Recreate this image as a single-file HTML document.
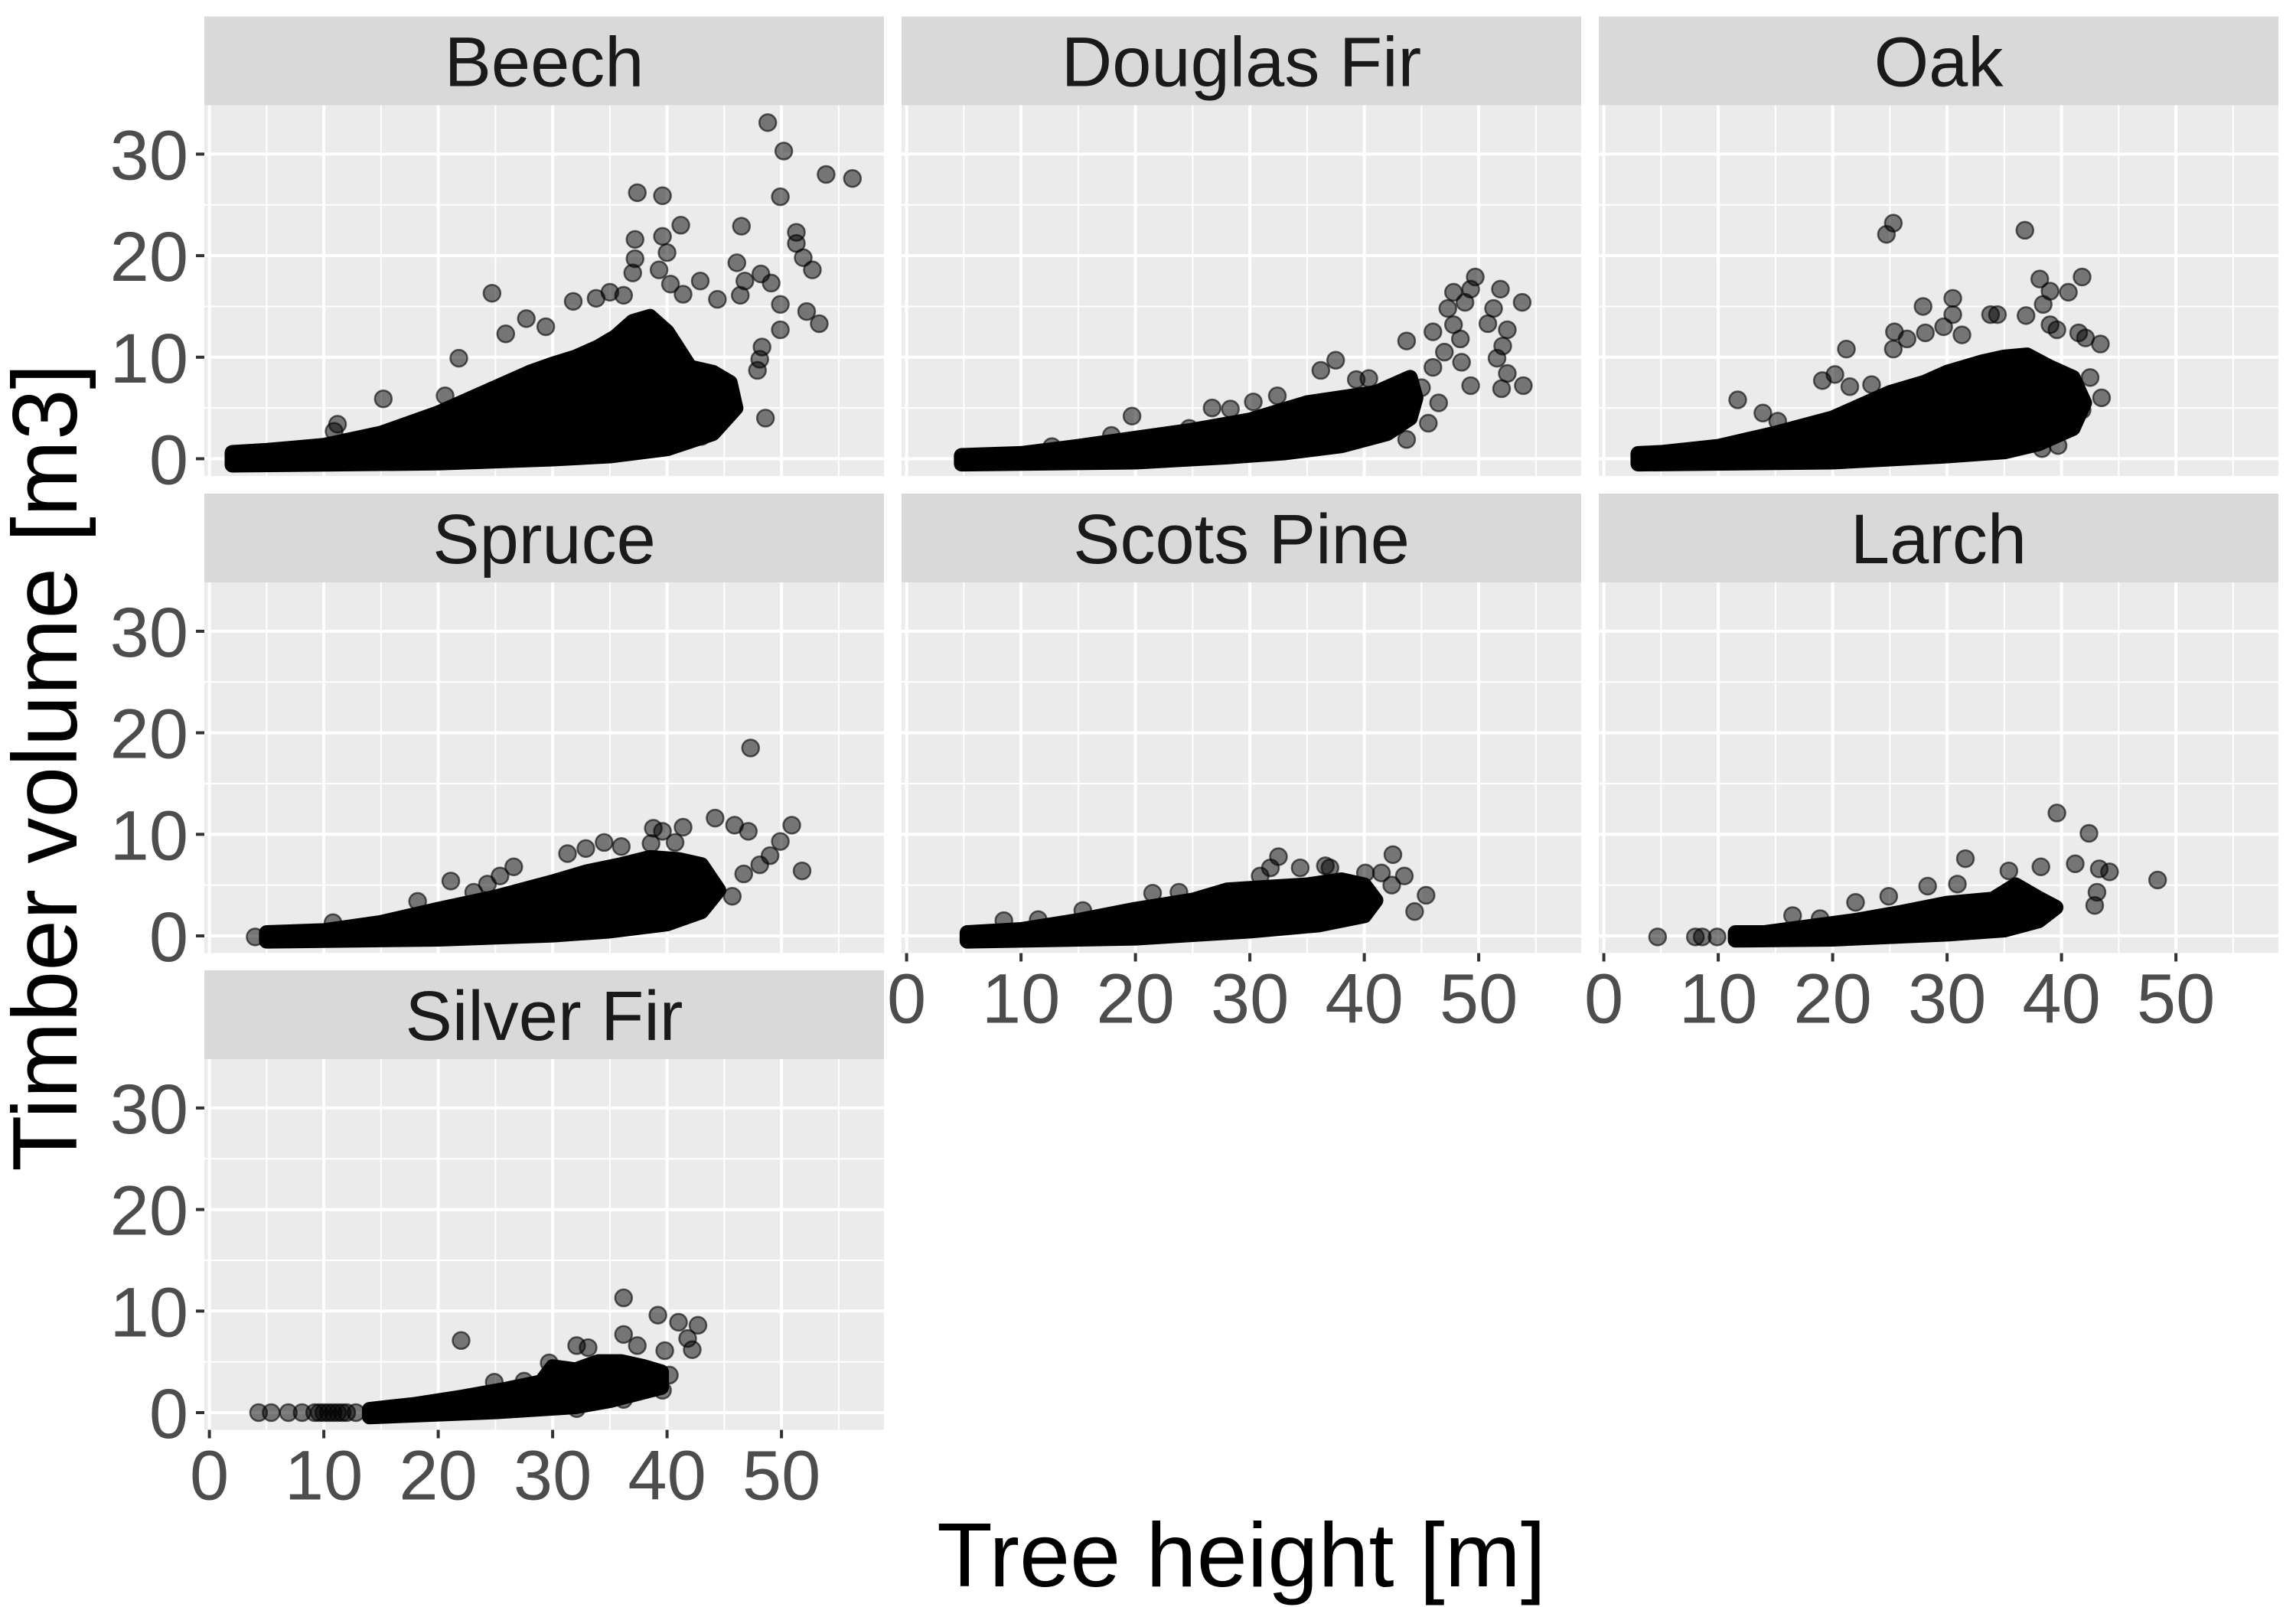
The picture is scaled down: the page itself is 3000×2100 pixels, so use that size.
<!DOCTYPE html>
<html><head><meta charset="utf-8"><style>
html,body{margin:0;padding:0;background:#fff;}
svg{display:block;font-family:"Liberation Sans",Arial,sans-serif;}
</style></head><body>
<svg id="chart" width="3000" height="2100" viewBox="0 0 3000 2100" xmlns="http://www.w3.org/2000/svg">
<text x="0" y="0" transform="translate(100,1003) rotate(-90)" font-size="120" text-anchor="middle" fill="#000">Timber volume [m3]</text>
<text x="1622" y="2073" font-size="119" text-anchor="middle" fill="#000">Tree height [m]</text>
</svg>
<script>
const species = ["Beech","Douglas Fir","Oak","Spruce","Scots Pine","Larch","Silver Fir"];
const xTicks = [0,10,20,30,40,50];
const yTicks = [0,10,20,30];
const xMinor = [5,15,25,35,45,55];
const yMinor = [5,15,25];

// dense point-cloud outlines (height, volume) in loop order
const beechEnv = [[2,0.6],[5,0.8],[10,1.3],[15,2.5],[20,4.5],[22,5.5],[25,7],[28,8.5],[30,9.3],[32,10],[34,11],[35.5,12],[37,13.5],[38.5,14],[40,12.5],[42,9],[44,8.5],[45.5,7.5],[46,5],[44,2.5],[40,1],[35,0.3],[30,0],[20,-0.4],[2,-0.6]];
const douglasEnv = [[4.8,0.3],[10,0.5],[15,1.2],[20,2],[25,2.8],[30,3.8],[35,5.5],[38,6],[41,6.5],[44,8],[44.5,6],[44,4],[42,2.5],[38,1.3],[33,0.6],[28,0.2],[20,-0.3],[4.8,-0.5]];
const oakEnv = [[3,0.5],[5,0.6],[10,1.2],[15,2.5],[20,4],[22,5],[25,6.5],[28,7.5],[30,8.5],[33,9.5],[35,10],[37,10.2],[39,9],[41,8],[42,5.5],[41,3],[38,1.5],[35,0.7],[30,0.3],[20,-0.3],[3,-0.5]];
const spruceEnv = [[5,0.3],[10,0.5],[15,1.3],[20,2.6],[25,3.8],[30,5.3],[33,6.3],[36,7],[38.5,7.7],[41,7.5],[43,7],[44.5,4.5],[43,2.4],[40,1.2],[35,0.5],[30,0.1],[20,-0.3],[5,-0.5]];
const pineEnv = [[5.3,0.3],[10,0.6],[15,1.5],[20,2.6],[25,3.5],[28,4.5],[32,4.8],[35,5],[38,5.5],[40,5],[41,3.5],[40,2],[36,1.1],[30,0.5],[20,-0.2],[5.3,-0.5]];
const larchEnv = [[11.5,0.3],[14,0.3],[18,0.9],[22,1.5],[26,2.3],[30,3.2],[34,3.6],[36,5],[38,3.7],[39.5,2.8],[38,1.5],[35,0.6],[30,0.2],[20,-0.3],[11.5,-0.4]];
const firEnv = [[14,0.3],[18,0.8],[22,1.5],[26,2.3],[29,3],[30,4.5],[32,4.2],[34,5],[36,5],[38,4.5],[39.5,4],[39.5,2.5],[35,1.2],[32,0.6],[25,0.1],[14,-0.4]];

// individual points (height, volume)
const beechX = [48.8,50.2,53.9,56.2,49.9,37.4,39.6,41.2,46.5,37.2,39.6,40.0,37.2,37.0,39.3,51.3,51.3,51.9,52.7,46.1,42.9,46.8,48.2,49.1,41.4,40.3,44.4,46.4,49.9,52.2,53.3,48.6,47.9,48.1,48.3,49.9,24.7,31.8,35.0,33.8,36.2,27.7,21.8,15.2,20.6,25.9,29.4,11.2,10.9,43.0];
const beechV = [33.1,30.3,28.0,27.6,25.8,26.2,25.9,23.0,22.9,21.6,21.9,20.3,19.7,18.3,18.6,22.3,21.2,19.8,18.6,19.3,17.5,17.5,18.2,17.3,16.2,17.2,15.7,16.1,15.2,14.5,13.3,4.0,8.7,9.8,11.0,12.7,16.3,15.5,16.4,15.8,16.1,13.8,9.9,5.9,6.2,12.3,13.0,3.4,2.7,2.2];
const douglasX = [49.7,47.8,49.3,51.9,53.8,48.8,47.3,51.3,47.8,52.5,50.8,43.7,46.0,48.4,52.1,51.6,52.5,53.9,52.0,49.3,37.5,36.2,39.3,40.4,32.4,26.7,28.3,30.3,19.7,17.9,12.7,43.7,45.6,24.7,46,47,48.5,45,46.5];
const douglasV = [17.9,16.4,16.7,16.7,15.4,15.4,14.8,14.8,13.2,12.7,13.3,11.6,12.5,11.8,11.1,9.9,8.4,7.2,6.9,7.2,9.7,8.7,7.8,7.9,6.2,5.0,4.9,5.6,4.2,2.3,1.2,1.9,3.5,3.0,9,10.5,9.5,7,5.5];
const oakX = [25.3,24.7,36.8,38.1,41.8,39.0,40.6,38.4,30.5,27.9,30.5,33.8,34.4,36.9,39.0,39.6,41.5,42.1,43.4,25.4,26.5,28.1,29.7,31.3,21.2,25.3,42.5,43.5,41.8,38.3,39.7,11.7,13.9,19.1,20.2,21.5,15.2,23.4];
const oakV = [23.2,22.1,22.5,17.7,17.9,16.5,16.4,15.2,15.8,15.0,14.2,14.2,14.2,14.1,13.2,12.7,12.4,11.9,11.3,12.5,11.8,12.4,13.0,12.2,10.8,10.8,8.0,6.0,4.8,1.0,1.3,5.8,4.5,7.7,8.3,7.1,3.7,7.3];
const spruceX = [47.3,44.2,45.9,47.1,50.9,49.9,49.0,48.1,51.8,38.8,39.6,41.4,38.6,40.7,34.5,36.0,32.9,31.3,26.6,25.4,21.1,24.3,23.1,18.2,10.8,45.7,46.7,4.0];
const spruceV = [18.5,11.6,10.9,10.3,10.9,9.3,7.9,7.0,6.4,10.6,10.3,10.7,9.1,9.2,9.2,8.8,8.6,8.1,6.8,5.9,5.4,5.1,4.3,3.4,1.3,3.9,6.1,-0.1];
const pineX = [32.5,31.8,34.4,36.6,37.0,42.5,43.5,42.4,45.4,44.4,40.1,41.5,21.5,23.8,15.4,8.5,11.5,30.9];
const pineV = [7.8,6.7,6.7,6.9,6.7,8.0,5.9,5.0,4.0,2.4,6.2,6.2,4.2,4.3,2.5,1.5,1.6,5.9];
const larchX = [39.6,42.4,31.6,48.4,38.2,41.2,43.3,44.2,35.4,28.3,30.9,24.9,22.0,16.5,18.9,42.9,43.1,4.7,8.0,8.6,9.9,11.7];
const larchV = [12.1,10.1,7.6,5.5,6.8,7.1,6.6,6.3,6.4,4.9,5.1,3.9,3.3,2.0,1.7,3.0,4.3,-0.1,-0.1,-0.1,-0.1,0.0];
const firX = [36.2,39.2,41.0,42.7,41.8,42.2,22.0,36.2,32.1,33.1,37.4,39.8,40.2,39.6,29.7,30.3,24.9,27.5,32.1,36.2,4.3,5.4,6.9,8.1,12.8,9.2,9.6,10.0,10.4,10.8,11.2,11.6,12.0];
const firV = [11.3,9.6,8.9,8.6,7.3,6.2,7.1,7.7,6.6,6.4,6.6,6.1,3.7,2.2,4.9,4.3,3.0,3.1,0.4,1.3,0,0,0,0,0,0,0,0,0,0,0,0,0];

const envs = [beechEnv,douglasEnv,oakEnv,spruceEnv,pineEnv,larchEnv,firEnv];
const ptsX = [beechX,douglasX,oakX,spruceX,pineX,larchX,firX];
const ptsV = [beechV,douglasV,oakV,spruceV,pineV,larchV,firV];

const NS = "http://www.w3.org/2000/svg";
const svg = document.getElementById("chart");
const colX = [267,1178,2089], rowY = [137.5,761,1384];
const PW = 888, PH = 484.5, SH = 116;
function mk(tag, attrs, parent){ const e=document.createElementNS(NS,tag); for(const k in attrs) e.setAttribute(k,attrs[k]); (parent||svg).appendChild(e); return e; }

species.forEach((name,i)=>{
  const c=i%3, r=Math.floor(i/3);
  const x0=colX[c], y0=rowY[r];
  const sx = v => x0 + 6.6 + v*14.95;
  const sy = v => y0 + 462 - v*13.27;
  const g = mk("g",{});
  
  
  const strip = mk("rect",{x:x0,y:y0-SH,width:PW,height:SH,fill:"#d9d9d9"},g);
  
  
  const st = mk("text",{x:x0+PW/2,y:y0-SH/2+33,"font-size":92,"text-anchor":"middle",fill:"#1a1a1a"},g);
  st.textContent = name;
  
  
  const bg = mk("rect",{x:x0,y:y0,width:PW,height:PH,fill:"#ebebeb"},g);
  
  
  yMinor.forEach(v=>mk("line",{x1:x0,x2:x0+PW,y1:sy(v),y2:sy(v),stroke:"#fff","stroke-width":2},g));
  xMinor.forEach(v=>mk("line",{x1:sx(v),x2:sx(v),y1:y0,y2:y0+PH,stroke:"#fff","stroke-width":2},g));
  yTicks.forEach(v=>mk("line",{x1:x0,x2:x0+PW,y1:sy(v),y2:sy(v),stroke:"#fff","stroke-width":4},g));
  xTicks.forEach(v=>mk("line",{x1:sx(v),x2:sx(v),y1:y0,y2:y0+PH,stroke:"#fff","stroke-width":4},g));
  const clipId="clip"+i;
  const cp = mk("clipPath",{id:clipId},g); mk("rect",{x:x0,y:y0,width:PW,height:PH},cp);
  const dg = mk("g",{"clip-path":"url(#"+clipId+")"},g);
  const env = envs[i];
  const ptsStr = env.map(p=>sx(p[0])+","+sy(p[1])).join(" ");
  const poly = mk("polygon",{points:ptsStr,fill:"#000",stroke:"#000","stroke-width":20,"stroke-linejoin":"round"},dg);
  
  
  ptsX[i].forEach((xv,j)=>{
    const pt = mk("circle",{cx:sx(xv),cy:sy(ptsV[i][j]),r:11,fill:"rgba(0,0,0,0.5)",stroke:"rgba(0,0,0,0.6)","stroke-width":2.5},dg);
    
    
  });
  if(c===0){
    yTicks.forEach(v=>{
      mk("line",{x1:x0-11,x2:x0,y1:sy(v),y2:sy(v),stroke:"#333","stroke-width":4},g);
      const t = mk("text",{x:x0-21,y:sy(v)+33,"font-size":92,"text-anchor":"end",fill:"#4d4d4d"},g);
      t.textContent = v;
      
      
    });
  }
  if(i>=4){
    xTicks.forEach(v=>{
      mk("line",{x1:sx(v),x2:sx(v),y1:y0+PH,y2:y0+PH+11,stroke:"#333","stroke-width":4},g);
      const t = mk("text",{x:sx(v),y:y0+PH+91,"font-size":92,"text-anchor":"middle",fill:"#4d4d4d"},g);
      t.textContent = v;
      
      
    });
  }
});
</script>
</body></html>
